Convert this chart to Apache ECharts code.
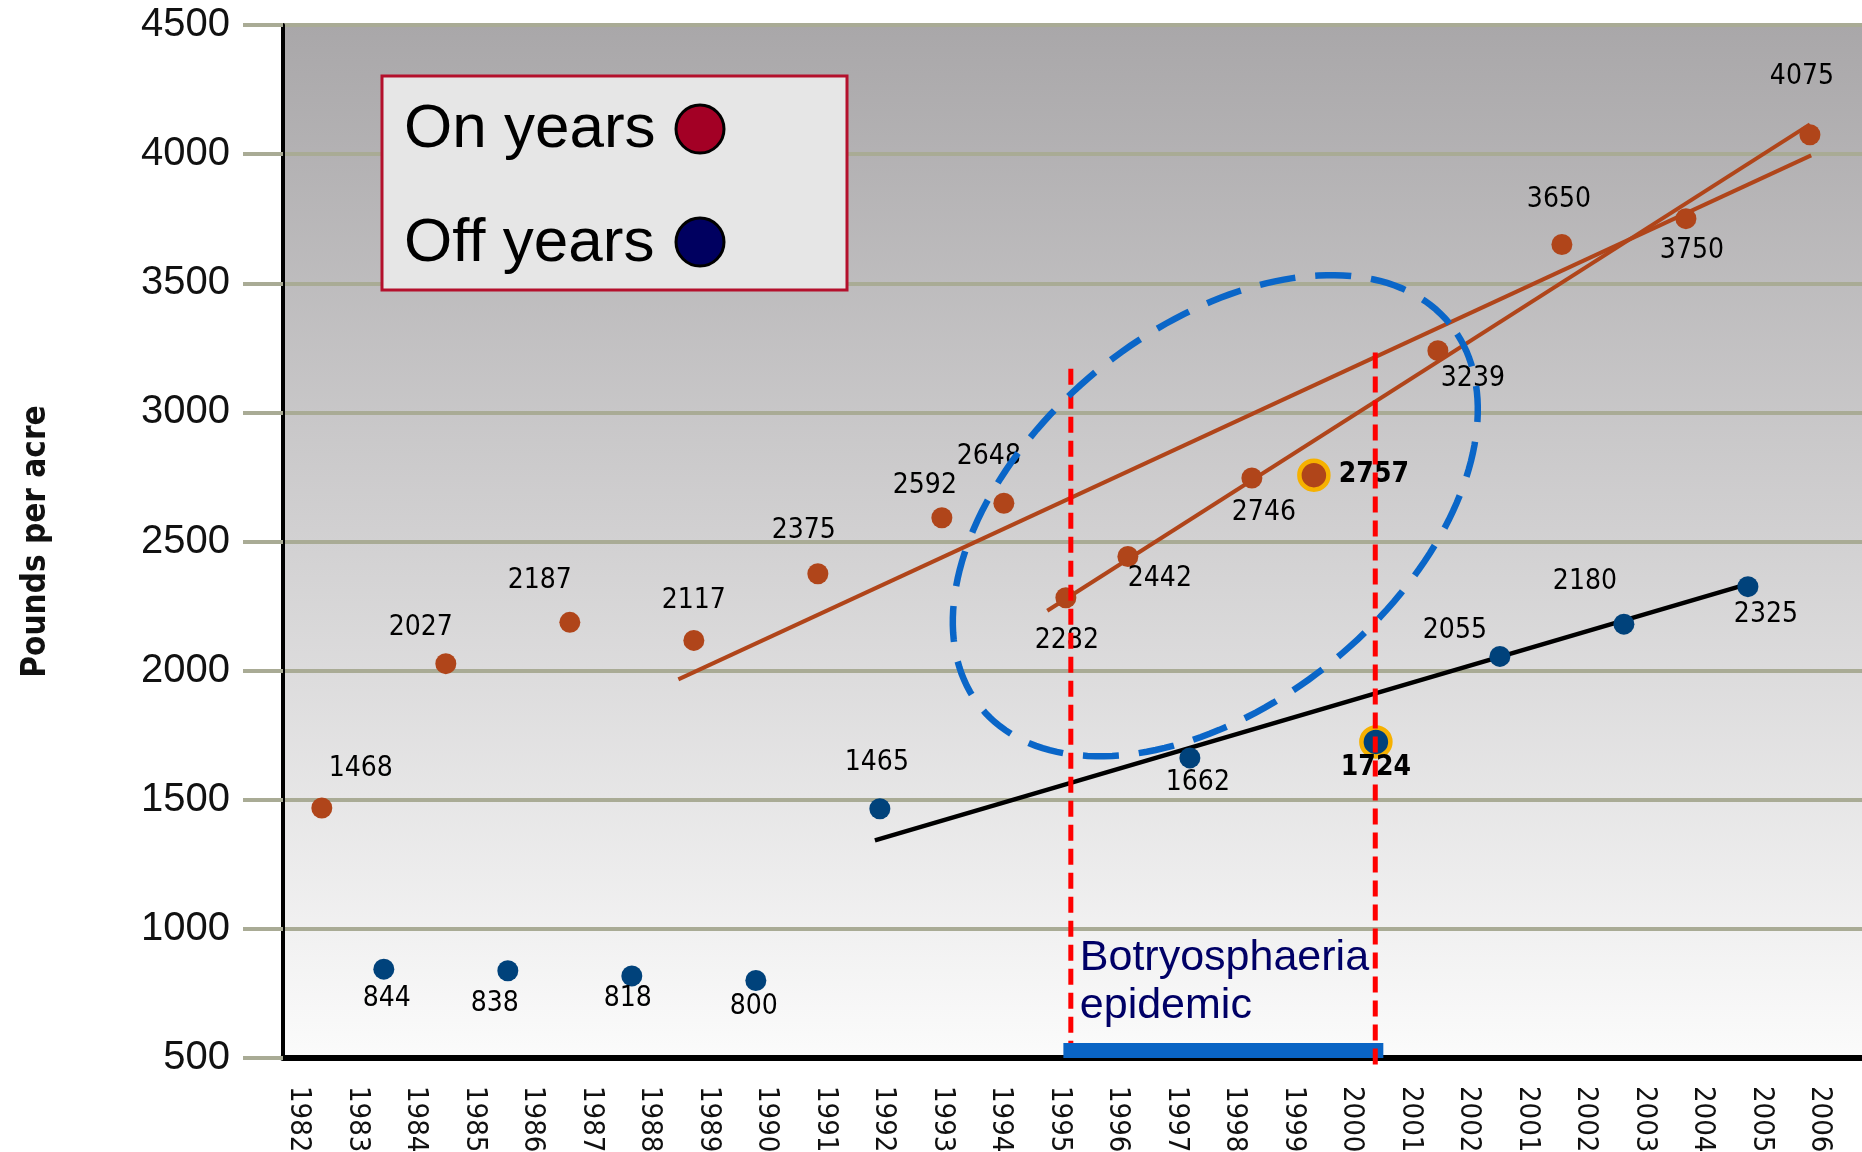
<!DOCTYPE html>
<html>
<head>
<meta charset="utf-8">
<script src="https://cdn.jsdelivr.net/npm/echarts@6/dist/echarts.min.js"></script>
<style>
  html, body { margin: 0; padding: 0; background: #ffffff; }
  #chart { width: 1862px; height: 1152px; }
</style>
</head>
<body>
<div id="chart"></div>
<script>
// Pistachio yield per harvest year, alternate bearing (on / off years)
const years = [1982, 1983, 1984, 1985, 1986, 1987, 1988, 1989, 1990, 1991, 1992, 1993,
               1994, 1995, 1996, 1997, 1998, 1999, 2000, 2001, 2002, 2003, 2004, 2005, 2006];
const yields = [1468, 844, 2027, 838, 2187, 818, 2117, 800, 2375, 1465, 2592, 2648,
                2282, 2442, 1662, 2746, 2757, 1724, 3239, 2055, 3650, 2180, 3750, 2325, 4075];
const bearing = ['on', 'off', 'on', 'off', 'on', 'off', 'on', 'off', 'on', 'off', 'on', 'on',
                 'on', 'on', 'off', 'on', 'on', 'off', 'on', 'off', 'on', 'off', 'on', 'off', 'on'];
const flaggedYears = [1998, 1999];

// Year labels printed along the bottom axis
const axisYearLabels = ['1982', '1983', '1984', '1985', '1986', '1987', '1988', '1989', '1990',
                        '1991', '1992', '1993', '1994', '1995', '1996', '1997', '1998', '1999',
                        '2000', '2001', '2002', '2001', '2002', '2003', '2004', '2005', '2006'];

// Value axis ticks
const yMin = 500;
const yMax = 4500;
const yStep = 500;

// Trend lines, [year, pounds per acre] end points
const onTrendLong = [[1987.75, 1966], [2006.02, 3995]];
const onTrendRecent = [[1993.70, 2232], [2006.00, 4115]];
const offTrend = [[1990.92, 1343], [2005.02, 2337]];

// Botryosphaeria epidemic window
const epidemicYears = [1994.08, 1998.99];
const epidemicLineTop = [3169, 3232];
const epidemicLineBottom = [558, 465];
const epidemicBand = [1993.96, 1999.12];
const epidemicBandTop = 558;
const epidemicCaptionLevel = 1000;

// Highlighted cluster of years (ellipse centre, in data units)
const clusterCentre = [1996.41, 2600];

// Label placement (pixel offsets from each point)
const labelOffsets = [[39, -39], [3, 30], [-25, -36], [-13, 33], [-30, -42], [-4, 23], [0, -40],
                      [-2, 26], [-14, -43], [-3, -46], [-17, -32], [-15, -47], [1, 43], [32, 22],
                      [8, 25], [12, 35], [60, 0], [0, 26], [35, 28], [-45, -26], [-3, -45],
                      [-39, -42], [6, 32], [18, 28], [-8, -58]];

const NARROW = "'Liberation Sans Narrow', 'Arial Narrow', 'DejaVu Sans Condensed', 'Liberation Sans', sans-serif";
const SANS = "'Liberation Sans', Arial, sans-serif";

const ON_COLOR = '#b0451a';
const OFF_COLOR = '#00427b';
const GRID_LINE = '#a9ab95';

function buildPoints(kind) {
  const out = [];
  years.forEach((yr, i) => {
    if (bearing[i] !== kind) return;
    const flagged = flaggedYears.indexOf(yr) >= 0;
    out.push({
      value: [yr, yields[i]],
      symbolSize: flagged ? 29 : 21,
      itemStyle: flagged ? { borderColor: '#f6b100', borderWidth: 4.5 } : {},
      label: {
        offset: labelOffsets[i],
        fontWeight: flagged ? 'bold' : 'normal'
      }
    });
  });
  return out;
}

const chart = echarts.init(document.getElementById('chart'), null, { renderer: 'canvas' });

const pointLabel = {
  show: true,
  position: 'inside',
  formatter: p => String(p.value[1]),
  fontFamily: NARROW,
  fontSize: 28,
  color: '#000'
};

chart.setOption({
  animation: false,
  backgroundColor: '#ffffff',
  grid: [
    {
      left: 283, right: 0, top: 25, bottom: 94,
      show: true,
      borderWidth: 0,
      outerBoundsMode: 'none',
      backgroundColor: {
        type: 'linear', x: 0, y: 0, x2: 0, y2: 1,
        colorStops: [
          { offset: 0, color: '#a9a7a9' },
          { offset: 0.5, color: '#d2d1d2' },
          { offset: 1, color: '#fbfbfb' }
        ]
      }
    },
    { left: 299, right: 42, top: 25, bottom: 94, show: false, outerBoundsMode: 'none' }
  ],
  xAxis: [
    {
      type: 'value',
      gridIndex: 0,
      min: 1981.374,
      max: 2006.84,
      axisLine: { show: true, onZero: false, lineStyle: { color: '#000', width: 6 } },
      axisTick: { show: false },
      axisLabel: { show: false },
      splitLine: { show: false }
    },
    {
      type: 'category',
      gridIndex: 1,
      data: axisYearLabels,
      boundaryGap: false,
      axisLine: { show: false },
      axisTick: { show: false },
      splitLine: { show: false },
      axisLabel: {
        interval: 0,
        rotate: -90,
        margin: 28,
        fontFamily: NARROW,
        fontSize: 29,
        color: '#111'
      }
    }
  ],
  yAxis: [
    {
      type: 'value',
      gridIndex: 0,
      min: yMin,
      max: yMax,
      interval: yStep,
      name: 'Pounds per acre',
      nameLocation: 'middle',
      nameRotate: 90,
      nameGap: 230,
      nameTextStyle: { fontFamily: NARROW, fontWeight: 'bold', fontSize: 33, color: '#111' },
      axisLine: { show: true, lineStyle: { color: '#000', width: 4 } },
      axisTick: { show: true, length: 40, lineStyle: { color: GRID_LINE, width: 4 } },
      axisLabel: { margin: 53, fontFamily: SANS, fontSize: 40, color: '#111',
                   formatter: v => String(v) },
      splitLine: { show: true, lineStyle: { color: GRID_LINE, width: 4 } }
    },
    { type: 'value', gridIndex: 1, min: 0, max: 1, show: false }
  ],
  series: [
    {
      name: 'off trend',
      type: 'line',
      xAxisIndex: 0, yAxisIndex: 0,
      data: offTrend,
      symbol: 'none',
      z: 2,
      lineStyle: { color: '#000', width: 4.5 },
      markArea: {
        silent: true,
        itemStyle: { color: '#0a64c4', opacity: 1 },
        data: [[{ coord: [epidemicBand[0], yMin] }, { coord: [epidemicBand[1], epidemicBandTop] }]]
      }
    },
    {
      name: 'on trend long',
      type: 'line',
      data: onTrendLong,
      symbol: 'none',
      z: 2,
      lineStyle: { color: ON_COLOR, width: 4 }
    },
    {
      name: 'on trend recent',
      type: 'line',
      data: onTrendRecent,
      symbol: 'none',
      z: 2,
      lineStyle: { color: ON_COLOR, width: 4 }
    },
    {
      name: 'On years',
      type: 'scatter',
      data: buildPoints('on'),
      z: 3,
      itemStyle: { color: ON_COLOR, opacity: 1 },
      label: pointLabel
    },
    {
      name: 'Off years',
      type: 'scatter',
      data: buildPoints('off'),
      z: 3,
      itemStyle: { color: OFF_COLOR, opacity: 1 },
      label: pointLabel
    },
    ...epidemicYears.map((yr, k) => ({
      name: 'epidemic bound ' + (k + 1),
      type: 'line',
      data: [[yr, epidemicLineTop[k]], [yr, epidemicLineBottom[k]]],
      symbol: 'none',
      clip: false,
      z: 10,
      lineStyle: { color: '#ff0000', width: 5, type: [16, 8] }
    }))
  ]
});

// Annotations placed through the chart's own coordinate conversion
function drawAnnotations() {
  const toPx = p => chart.convertToPixel({ xAxisIndex: 0, yAxisIndex: 0 }, p);
  const c = toPx(clusterCentre);
  const a = 303, b = 187, tilt = 39.4 * Math.PI / 180;
  const ring = [];
  for (let k = 0; k <= 180; k++) {
    const t = (k / 180) * Math.PI * 2;
    const ex = a * Math.cos(t), ey = b * Math.sin(t);
    ring.push([c[0] + ex * Math.cos(tilt) - ey * Math.sin(tilt),
               c[1] - (ex * Math.sin(tilt) + ey * Math.cos(tilt))]);
  }
  const caption = toPx([epidemicYears[0], epidemicCaptionLevel]);

  chart.setOption({
    graphic: [
      {
        type: 'polyline', z: 20, silent: true,
        shape: { points: ring },
        style: { stroke: '#0a66c8', lineWidth: 6.5, lineDash: [36, 20], fill: null }
      },
      {
        type: 'text', z: 20, silent: true,
        x: caption[0] + 9, y: caption[1] + 29,
        style: { text: 'Botryosphaeria', font: '43px ' + SANS, fill: '#000066',
                 textAlign: 'left', textVerticalAlign: 'middle' }
      },
      {
        type: 'text', z: 20, silent: true,
        x: caption[0] + 9, y: caption[1] + 77,
        style: { text: 'epidemic', font: '43px ' + SANS, fill: '#000066',
                 textAlign: 'left', textVerticalAlign: 'middle' }
      },
      {
        type: 'group', z: 30, silent: true,
        children: [
          { type: 'rect', shape: { x: 382, y: 76, width: 465, height: 214 },
            style: { fill: '#e6e6e6', stroke: '#b4102c', lineWidth: 3 } },
          { type: 'text', x: 404, y: 130,
            style: { text: 'On years', font: '62px ' + SANS, fill: '#000',
                     textAlign: 'left', textVerticalAlign: 'middle' } },
          { type: 'text', x: 404, y: 244,
            style: { text: 'Off years', font: '62px ' + SANS, fill: '#000',
                     textAlign: 'left', textVerticalAlign: 'middle' } },
          { type: 'circle', shape: { cx: 700, cy: 129, r: 24 },
            style: { fill: '#a30025', stroke: '#000', lineWidth: 3 } },
          { type: 'circle', shape: { cx: 700, cy: 242, r: 24 },
            style: { fill: '#000060', stroke: '#000', lineWidth: 3 } }
        ]
      }
    ]
  });
}
drawAnnotations();
</script>
</body>
</html>
